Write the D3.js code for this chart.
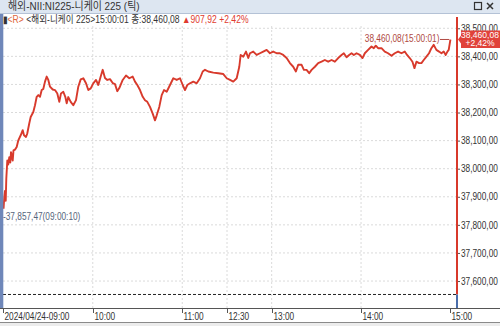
<!DOCTYPE html>
<html>
<head>
<meta charset="utf-8">
<script src="https://cdn.jsdelivr.net/npm/d3@7"></script>
<style>
  body { margin: 0; background: #fff; }
  svg { display: block; font-family: "Liberation Sans", "Noto Sans CJK KR", sans-serif; }
</style>
</head>
<body>
<div id="chart"></div>
<script>
// tick series (time of trade, index level)
const tickTimes = [
  "09:00:10","09:00:40","09:01:08","09:01:37","09:02:01","09:02:41","09:03:21","09:04:01","09:04:42","09:05:10",
  "09:06:18","09:06:50","09:07:51","09:08:59","09:10:04","09:11:40","09:13:01","09:13:53","09:15:13","09:16:06",
  "09:17:26","09:18:22","09:20:07","09:21:15","09:22:24","09:23:28","09:24:37","09:25:45","09:26:49","09:27:58",
  "09:29:06","09:30:11","09:31:19","09:33:08","09:34:40","09:36:13","09:37:33","09:38:41","09:40:14","09:41:34",
  "09:42:31","09:43:35","09:45:12","09:46:56","09:48:45","09:50:17","09:51:54","09:53:39","09:55:27","09:57:00",
  "09:58:37","10:00:21","10:02:10","10:03:42","10:05:19","10:06:39","10:08:11","10:09:44","10:11:33","10:13:22",
  "10:14:54","10:16:26","10:17:47","10:20:04","10:22:17","10:24:29","10:26:46","10:28:19","10:29:51","10:31:40",
  "10:33:29","10:35:01","10:36:34","10:38:22","10:40:11","10:41:43","10:42:52","10:44:36","10:46:13","10:47:46",
  "10:49:34","10:51:47","10:54:00","10:56:17","10:58:29","11:00:18","11:01:50","11:03:23","11:05:11","11:07:24",
  "11:09:41","11:11:54","11:13:43","11:15:15","11:17:28","11:20:49","11:24:10","11:27:31","11:29:48",
  "12:32:01","12:34:13","12:36:30","12:38:15","12:39:11","12:40:56","12:42:45","12:44:17","12:45:25","12:47:38",
  "12:49:55","12:52:08","12:54:20","12:56:37","12:58:50","13:01:03","13:03:20","13:05:32","13:07:45","13:10:02",
  "13:12:15","13:14:28","13:16:16","13:17:49","13:20:05","13:21:38","13:23:26","13:25:11","13:26:48","13:29:01",
  "13:31:13","13:33:30","13:35:43","13:37:56","13:40:13","13:42:25","13:44:38","13:46:55","13:48:27","13:50:16",
  "13:52:01","13:53:37","13:55:10","13:56:58","13:59:11","14:00:59","14:02:32","14:04:45","14:07:02","14:08:34",
  "14:09:55","14:11:27","14:13:44","14:15:56","14:18:09","14:20:26","14:22:39","14:24:52","14:27:09","14:29:21",
  "14:30:54","14:32:43","14:34:31","14:35:52","14:37:12","14:38:57","14:40:33","14:42:06","14:43:54","14:45:39",
  "14:47:15","14:48:48","14:50:36","14:52:21","14:54:00","14:55:30","14:56:51","14:57:59","14:58:52","15:00:01"
];
const tickValues = [
  37857.47,37900,37921,37886,37965,38029,38015,38041,38022,38059,
  38029,38065,38068,38077,38101,38119,38137,38119,38113,38126,
  38162,38184,38202,38226,38256,38262,38256,38280,38284,38310,
  38328,38316,38292,38282,38280,38268,38238,38268,38274,38256,
  38233,38255,38238,38226,38244,38292,38318,38322,38304,38280,
  38286,38304,38316,38298,38328,38352,38323,38316,38319,38305,
  38301,38276,38287,38316,38332,38322,38328,38310,38298,38280,
  38256,38244,38238,38220,38196,38172,38190,38220,38262,38280,
  38274,38298,38322,38316,38322,38298,38280,38298,38304,38310,
  38304,38322,38346,38352,38346,38342,38340,38337,38322,
  38316,38310,38322,38363,38405,38399,38417,38394,38411,38417,
  38405,38411,38417,38423,38411,38417,38411,38411,38405,38394,
  38376,38363,38346,38370,38370,38352,38352,38340,38352,38363,
  38376,38381,38387,38381,38387,38381,38394,38405,38411,38397,
  38405,38411,38405,38411,38405,38394,38411,38423,38435,38429,
  38438,38429,38429,38417,38411,38402,38411,38417,38411,38417,
  38405,38394,38381,38358,38381,38376,38376,38387,38399,38411,
  38429,38441,38423,38417,38411,38417,38405,38417,38423,38460.08
];

const yTicks = [37600, 37700, 37800, 37900, 38000, 38100, 38200, 38300, 38400, 38500];
const xTickTimes = ["09:00", "10:00", "11:00", "12:30", "13:00", "14:00", "15:00"];
const xTickLabels = ["2024/04/24-09:00", "10:00", "11:00", "12:30", "13:00", "14:00", "15:00"];

const prevClose = 37552.16;
const lastValue = 38460.08, lastTime = "15:00:01";
const lowValue = 37857.47, lowTime = "09:00:10";
const change = 907.92, changePct = 2.42;

const W = 500, H = 326;
const axisX = 457, plotTop = 17, plotBottom = 308;
const NARROW = 0.83; // the HTS font is much narrower than anything installed

const toMin = s => {
  const [h, m, sec = 0] = s.split(":").map(Number);
  return h * 60 + m + sec / 60;
};

// squeeze text horizontally around its anchor to mimic the narrow terminal font
function squeeze(sel, k = NARROW) {
  sel.each(function () {
    const x0 = +this.getAttribute("x") || 0;
    d3.select(this).attr("transform", `translate(${x0 * (1 - k)},0) scale(${k},1)`);
  });
}

// korean HTS style: comma both as thousands and decimal separator
const fmt = d3.formatLocale({ decimal: ",", thousands: ",", grouping: [3], currency: ["", ""] }).format(",.2f");

// lunch break 11:30-12:30 is squeezed out
const x = d3.scaleLinear()
  .domain([540, 690, 750, 900])
  .range([3.3, 227, 227, 450.4]);
const y = d3.scaleLinear()
  .domain([37504, 38533])
  .range([308, 19]);

const svg = d3.select("#chart").append("svg")
  .attr("width", W).attr("height", H);

// title bar
svg.append("rect").attr("x", 0).attr("y", 0).attr("width", W).attr("height", 13.5).attr("fill", "#dde6f1");
svg.append("line").attr("x1", 0).attr("x2", W).attr("y1", 13.5).attr("y2", 13.5).attr("stroke", "#b4c2d6");
svg.append("text").attr("x", 8).attr("y", 10.5).attr("font-size", 11).attr("fill", "#333")
  .text("해외-NII:NI225-니케이 225 (틱)").call(squeeze, 0.9);
svg.append("rect").attr("x", 474.5).attr("y", 2.5).attr("width", 7).attr("height", 7)
  .attr("fill", "none").attr("stroke", "#333").attr("stroke-width", 1.2);
svg.append("path").attr("d", "M487,3 L493,9 M493,3 L487,9").attr("stroke", "#333").attr("stroke-width", 1.5);

// grid
const grid = svg.append("g").attr("stroke", "#dadada").attr("stroke-dasharray", "2,2");
grid.selectAll(".v").data(xTickTimes.slice(1, -1)).join("line")
  .attr("x1", d => x(toMin(d))).attr("x2", d => x(toMin(d)))
  .attr("y1", 26).attr("y2", plotBottom);
grid.selectAll(".h").data(yTicks).join("line")
  .attr("x1", 3).attr("x2", axisX)
  .attr("y1", d => y(d)).attr("y2", d => y(d));

// previous close
svg.append("line")
  .attr("x1", 3).attr("x2", axisX)
  .attr("y1", y(prevClose)).attr("y2", y(prevClose))
  .attr("stroke", "#222").attr("stroke-dasharray", "3,2");

// price line
const data = tickTimes.map((t, i) => ({ t: toMin(t), v: tickValues[i] }));
svg.append("path").datum(data)
  .attr("fill", "none").attr("stroke", "#d83a2c").attr("stroke-width", 1.9)
  .attr("stroke-linejoin", "round")
  .attr("d", d3.line().x(d => x(d.t)).y(d => y(d.v)));

// right axis
const yAxis = svg.append("g")
  .attr("transform", `translate(${axisX},0)`)
  .call(d3.axisRight(y).tickValues(yTicks).tickSize(3).tickPadding(1).tickFormat(fmt));
yAxis.select(".domain").remove();
yAxis.selectAll("text").attr("font-size", 10).attr("fill", "#333").attr("font-family", null).call(squeeze);
yAxis.selectAll("line").attr("stroke", "#555");

// current price / previous close bar on the axis
svg.append("line").attr("x1", axisX).attr("x2", axisX)
  .attr("y1", plotTop).attr("y2", y(prevClose))
  .attr("stroke", "#d8392b").attr("stroke-width", 2);
svg.append("line").attr("x1", axisX).attr("x2", axisX)
  .attr("y1", y(prevClose)).attr("y2", plotBottom)
  .attr("stroke", "#4a6eab").attr("stroke-width", 2);

// last price box
const ly = y(lastValue);
svg.append("path")
  .attr("d", `M458,${ly} L461,${ly - 4} L461,${ly - 9} L500,${ly - 9} L500,${ly + 8.5} L461,${ly + 8.5} L461,${ly + 4} Z`)
  .attr("fill", "#e0423a");
svg.append("text").attr("x", 480).attr("y", ly - 1.8).attr("text-anchor", "middle")
  .attr("font-size", 9).attr("fill", "#fff").text(fmt(lastValue)).call(squeeze, 0.95);
svg.append("text").attr("x", 480).attr("y", ly + 7).attr("text-anchor", "middle")
  .attr("font-size", 9).attr("fill", "#fff").text("+" + fmt(changePct) + "%").call(squeeze, 0.95);

// last price annotation
svg.append("text").attr("x", 439.5).attr("y", ly + 3).attr("text-anchor", "end")
  .attr("font-size", 10).attr("fill", "#b04a42").text(`${fmt(lastValue)}(${lastTime})`).call(squeeze);
svg.append("line").attr("x1", 440).attr("x2", 449).attr("y1", ly).attr("y2", ly)
  .attr("stroke", "#b04a42");

// low annotation
svg.append("text").attr("x", 3).attr("y", y(lowValue) + 11.5)
  .attr("font-size", 10).attr("fill", "#55657c").text(`-${fmt(lowValue)}(${lowTime})`).call(squeeze);

// left bar
svg.append("rect").attr("x", 0).attr("y", 14).attr("width", 3.3).attr("height", plotBottom - 14)
  .attr("fill", "#6f87b9");

// bottom time axis
svg.append("line").attr("x1", 0).attr("x2", W).attr("y1", plotBottom + 0.5).attr("y2", plotBottom + 0.5)
  .attr("stroke", "#555");
const xt = svg.append("g").selectAll("g").data(xTickTimes).join("g")
  .attr("transform", d => `translate(${Math.round(x(toMin(d))) + 0.5},${plotBottom})`);
xt.append("line").attr("y1", 1).attr("y2", 5).attr("stroke", "#555");
xt.append("text").attr("x", 1).attr("y", 12.5).attr("font-size", 10).attr("fill", "#333")
  .text((d, i) => xTickLabels[i]).call(squeeze);
svg.append("line").attr("x1", 0).attr("x2", W).attr("y1", 322.5).attr("y2", 322.5).attr("stroke", "#8a8a8a");
svg.append("rect").attr("x", 0).attr("y", 323).attr("width", W).attr("height", 3).attr("fill", "#ececec");

// info line
const info = svg.append("text").attr("x", 3).attr("y", 23.5).attr("font-size", 10).attr("fill", "#333");
info.append("tspan").text("▮");
info.append("tspan").attr("fill", "#e0683c").text("<R>");
info.append("tspan").text(` <해외-니케이 225>${lastTime} 종:${fmt(lastValue)} `);
info.append("tspan").attr("fill", "#e03a2e").text(`▲${fmt(change)} +${fmt(changePct)}%`);
info.call(squeeze, 0.86);
</script>
</body>
</html>
